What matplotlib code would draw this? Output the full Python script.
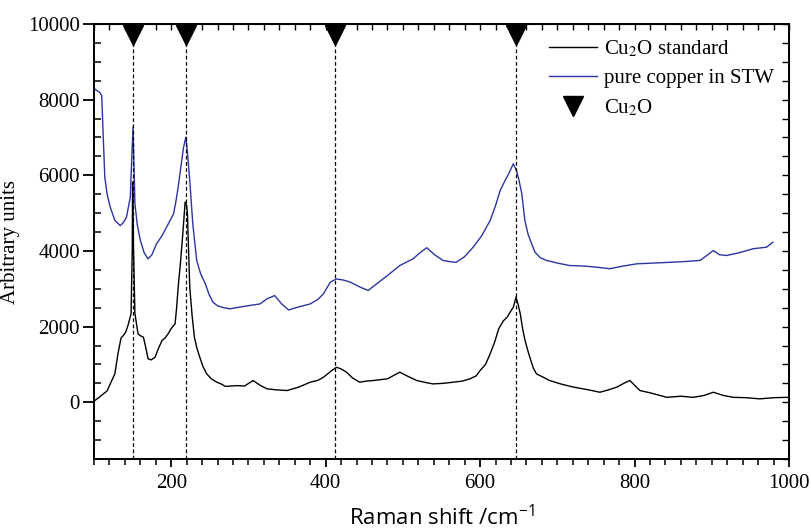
import matplotlib
matplotlib.use("Agg")
import matplotlib.pyplot as plt
from matplotlib.ticker import MultipleLocator, NullFormatter

# ---------------- data ----------------
std_x = [100, 101, 106, 112, 117, 121, 127, 131, 135, 138, 141, 144, 148, 149.5, 150, 151,
         153, 157, 160, 164, 167, 170, 174, 179, 183, 188, 192, 196, 200, 205, 207, 209,
         212, 215, 218, 220, 221, 222.5, 224, 227, 230, 233, 237, 241, 246, 252, 259, 265,
         270, 285, 295, 306, 315, 324, 335, 350, 365, 380, 390, 397, 408, 414, 420, 427,
         435, 444, 453, 462, 480, 496, 505, 518, 530, 539, 552, 565, 577, 587, 595, 600,
         607, 613, 619, 624, 630, 635, 640, 643, 646.5, 649, 652, 655, 658, 662, 665, 669,
         673, 680, 690, 705, 721, 740, 755, 765, 777, 786, 794, 800, 807, 820, 842, 860,
         876, 890, 902, 915, 928, 945, 962, 980, 997, 1000]
std_y = [50, 45, 120, 220, 300, 485, 750, 1280, 1700, 1765, 1850, 2030, 2340, 4000, 5820, 4200,
         2345, 1810, 1760, 1720, 1450, 1150, 1120, 1190, 1400, 1630, 1700, 1810, 1950, 2075, 2500, 3040,
         3700, 4455, 5290, 5200, 4980, 4000, 3040, 2300, 1720, 1450, 1190, 950, 750, 620, 530, 480,
         420, 440, 430, 575, 450, 355, 330, 310, 400, 530, 580, 660, 840, 925, 880, 795,
         640, 530, 560, 575, 620, 795, 700, 575, 520, 485, 500, 530, 560, 620, 700, 840,
         1000, 1280, 1600, 1940, 2150, 2250, 2420, 2510, 2780, 2600, 2340, 1950, 1650, 1350, 1150, 900,
         750, 680, 575, 480, 400, 330, 265, 320, 400, 500, 575, 450, 310, 250, 130, 160,
         130, 180, 265, 180, 130, 120, 90, 120, 130, 120]

stw_x = [100, 103, 107, 110, 112, 114, 117, 121, 127, 134, 138, 142, 147, 149, 150.5, 151.5,
         153, 156, 160, 165, 170, 175, 181, 188, 194, 203, 206, 209, 213, 216, 219, 221,
         224, 228, 233, 238, 244, 249, 254, 260, 268, 276, 290, 302, 315, 324, 334, 343,
         352, 365, 380, 390, 397, 406, 414, 423, 432, 444, 455, 466, 480, 496, 513, 522,
         531, 541, 552, 560, 569, 580, 591, 602, 613, 620, 626, 632, 637, 643, 647, 650,
         654, 658, 662, 665, 671, 678, 686, 700, 716, 735, 751, 768, 785, 803, 825, 846,
         865, 885, 902, 910, 919, 935, 954, 971, 979]
stw_y = [8300, 8250, 8200, 8110, 7000, 5950, 5500, 5160, 4805, 4670, 4750, 4890, 5420, 6500, 7270, 6500,
         5250, 4700, 4280, 3950, 3790, 3900, 4190, 4400, 4630, 4980, 5300, 5690, 6300, 6745, 7010, 6600,
         5860, 4700, 3750, 3400, 3140, 2850, 2645, 2550, 2500, 2470, 2520, 2560, 2600, 2735, 2820, 2600,
         2440, 2520, 2600, 2720, 2865, 3175, 3260, 3230, 3175, 3050, 2955, 3130, 3350, 3615, 3790, 3950,
         4085, 3900, 3750, 3720, 3700, 3850, 4100, 4400, 4805, 5200, 5600, 5850, 6040, 6305, 6130, 5900,
         5510, 4805, 4450, 4280, 3970, 3820, 3750, 3680, 3615, 3600, 3570, 3530, 3600, 3660, 3680, 3700,
         3720, 3750, 4010, 3900, 3880, 3950, 4060, 4100, 4230]

cu2o_peaks = [150, 219, 412, 646]
marker_level = 9700

labels = ["Cu$_2$O standard", "pure copper in STW", "Cu$_2$O"]

# ---------------- style ----------------
plt.rcParams['font.family'] = ['Liberation Serif', 'DejaVu Serif']
plt.rcParams['mathtext.fontset'] = 'stix'

fig = plt.figure(figsize=(8.12, 5.28), dpi=100)
ax = fig.add_axes([94 / 812, 69 / 528, 695 / 812, 435 / 528])

ax.plot(std_x, std_y, color='black', lw=1.0, label=labels[0])
ax.plot(stw_x, stw_y, color='#2b35a0', lw=1.0, label=labels[1])
ax.vlines(cu2o_peaks, -1500, marker_level, colors='black', linestyles=(0, (3, 2)), lw=0.9)
ax.plot(cu2o_peaks, [marker_level] * len(cu2o_peaks), linestyle='none', marker='v',
        color='black', markersize=15, label=labels[2])

ax.set_xlim(100, 1000)
ax.set_ylim(-1500, 10000)

ax.xaxis.set_major_locator(MultipleLocator(200))
ax.xaxis.set_minor_locator(MultipleLocator(20))
ax.yaxis.set_major_locator(MultipleLocator(2000))
ax.yaxis.set_minor_locator(MultipleLocator(500))

for s in ax.spines.values():
    s.set_linewidth(1.4)

ax.tick_params(axis='y', which='major', direction='out', length=8, width=1.3, labelsize=15, pad=2)
ax.tick_params(axis='y', which='minor', direction='in', length=5, width=1.1)
ax.tick_params(axis='x', which='major', direction='out', length=6, width=1.3, labelsize=15, pad=5)
ax.tick_params(axis='x', which='minor', direction='out', length=4, width=1.1)

top = ax.secondary_xaxis('top')
top.xaxis.set_major_locator(MultipleLocator(20))
top.xaxis.set_major_formatter(NullFormatter())
top.tick_params(direction='in', length=4, width=1.0)

right = ax.secondary_yaxis('right')
right.yaxis.set_major_locator(MultipleLocator(500))
right.yaxis.set_major_formatter(NullFormatter())
right.tick_params(direction='in', length=5, width=1.0)

ax.set_ylabel("Arbitrary units", fontsize=15, labelpad=6)
ax.set_xlabel("Raman shift /cm$^{\\mathregular{-1}}$", fontsize=16, family='Open Sans', labelpad=8)

ax.legend(loc='upper right', bbox_to_anchor=(1.0, 1.0), frameon=False, fontsize=15,
          handlelength=2.3, handletextpad=0.35, labelspacing=0.45, numpoints=1,
          borderaxespad=0.3)

fig.savefig("out.png", dpi=100)
